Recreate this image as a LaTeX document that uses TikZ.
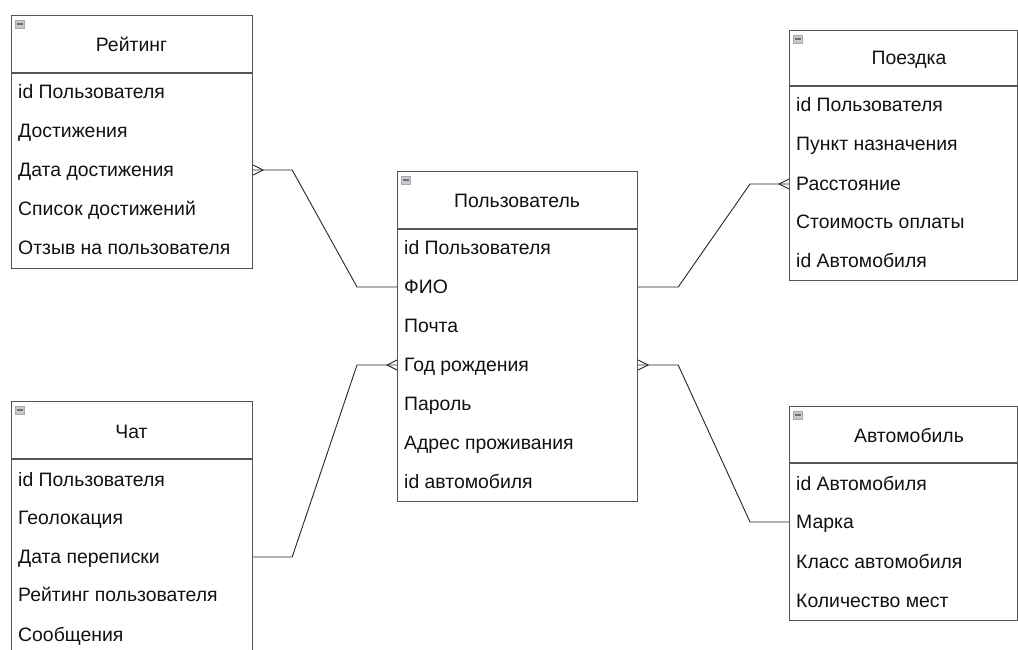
\documentclass[tikz,border=0pt]{standalone}
\usepackage{fontspec}
\setmainfont{Liberation Sans}
\usepackage{tikz}
\usetikzlibrary{positioning, calc}
\definecolor{mLine}{HTML}{555555}
\definecolor{mText}{HTML}{111111}
\definecolor{mIcon}{HTML}{C8C8D0}
\definecolor{mBar}{HTML}{707070}

\begin{document}
\begin{tikzpicture}[
  x=1pt, y=-1pt,
  tbl/.style={draw=mLine, line width=1.2pt, anchor=north west, inner sep=0pt},
  head/.style={font=\fontsize{19.4}{22}\selectfont, text=mText, inner sep=0pt, text height=13.8pt, text depth=0pt},
  row/.style={font=\fontsize{19.4}{22}\selectfont, text=mText, anchor=west, inner sep=0pt, text height=13.8pt, text depth=0pt},
  link/.style={draw=black!85, line width=0.9pt},
  icon/.style={fill=mIcon, draw=mBar!60, line width=0.5pt},
  bar/.style={draw=mBar, line width=1.4pt},
]
  \useasboundingbox (0,0) rectangle (1018,650);
  \clip (0,0) rectangle (1018,650);

  % Рейтинг
  \node[tbl, minimum width=241pt, minimum height=253pt] (rating) at (11,15) {};
  \draw[tbl] ([yshift=-58pt]rating.north west) -- ([yshift=-58pt]rating.north east);
  \filldraw[icon] (15,20) rectangle (24,28);
  \draw[bar] (16.5,24) -- (22.5,24);
  \node[head] (rating-t) at (131.5,45) {Рейтинг};
  \node[row] (rating-1) at (18,92) {id Пользователя};
  \node[row] (rating-2) at (18,131) {Достижения};
  \node[row] (rating-3) at (18,170) {Дата достижения};
  \node[row] (rating-4) at (18,209) {Список достижений};
  \node[row] (rating-5) at (18,248) {Отзыв на пользователя};

  % Чат
  \node[tbl, minimum width=241pt, minimum height=270pt] (chat) at (11,401) {};
  \draw[tbl] ([yshift=-58pt]chat.north west) -- ([yshift=-58pt]chat.north east);
  \filldraw[icon] (15,406) rectangle (24,414);
  \draw[bar] (16.5,410) -- (22.5,410);
  \node[head] (chat-t) at (131.5,432) {Чат};
  \node[row] (chat-1) at (18,480) {id Пользователя};
  \node[row] (chat-2) at (18,518) {Геолокация};
  \node[row] (chat-3) at (18,557) {Дата переписки};
  \node[row] (chat-4) at (18,595) {Рейтинг пользователя};
  \node[row] (chat-5) at (18,635) {Сообщения};

  % Пользователь
  \node[tbl, minimum width=240pt, minimum height=330pt] (user) at (397,171) {};
  \draw[tbl] ([yshift=-58pt]user.north west) -- ([yshift=-58pt]user.north east);
  \filldraw[icon] (401,176) rectangle (410,184);
  \draw[bar] (402.5,180) -- (408.5,180);
  \node[head] (user-t) at (517,201) {Пользователь};
  \node[row] (user-1) at (404,248) {id Пользователя};
  \node[row] (user-2) at (404,287) {ФИО};
  \node[row] (user-3) at (404,326) {Почта};
  \node[row] (user-4) at (404,365) {Год рождения};
  \node[row] (user-5) at (404,404) {Пароль};
  \node[row] (user-6) at (404,443) {Адрес проживания};
  \node[row] (user-7) at (404,482) {id автомобиля};

  % Поездка
  \node[tbl, minimum width=228pt, minimum height=250pt] (trip) at (789,30) {};
  \draw[tbl] ([yshift=-56pt]trip.north west) -- ([yshift=-56pt]trip.north east);
  \filldraw[icon] (793,35) rectangle (802,43);
  \draw[bar] (794.5,39) -- (800.5,39);
  \node[head] (trip-t) at (909,58) {Поездка};
  \node[row] (trip-1) at (796,105) {id Пользователя};
  \node[row] (trip-2) at (796,144) {Пункт назначения};
  \node[row] (trip-3) at (796,184) {Расстояние};
  \node[row] (trip-4) at (796,222) {Стоимость оплаты};
  \node[row] (trip-5) at (796,261) {id Автомобиля};

  % Автомобиль
  \node[tbl, minimum width=228pt, minimum height=214pt] (car) at (789,406) {};
  \draw[tbl] ([yshift=-57pt]car.north west) -- ([yshift=-57pt]car.north east);
  \filldraw[icon] (793,411) rectangle (802,419);
  \draw[bar] (794.5,415) -- (800.5,415);
  \node[head] (car-t) at (909,436) {Автомобиль};
  \node[row] (car-1) at (796,484) {id Автомобиля};
  \node[row] (car-2) at (796,522) {Марка};
  \node[row] (car-3) at (796,562) {Класс автомобиля};
  \node[row] (car-4) at (796,601) {Количество мест};

  % связи
  \draw[link] (rating.east |- rating-3) -- ++(39,0) -- ([xshift=-40pt]user.west |- user-2) -- (user.west |- user-2);
  \draw[link] (rating.east |- rating-3) ++(0,-5) -- ++(10,5) -- ++(-10,5);

  \draw[link] (chat.east |- chat-3) -- ++(39,0) -- ([xshift=-40pt]user.west |- user-4) -- (user.west |- user-4);
  \draw[link] (user.west |- user-4) ++(0,-5) -- ++(-10,5) -- ++(10,5);

  \draw[link] (user.east |- user-2) -- ++(40,0) -- ([xshift=-39pt]trip.west |- trip-3) -- (trip.west |- trip-3);
  \draw[link] (trip.west |- trip-3) ++(0,-5) -- ++(-10,5) -- ++(10,5);

  \draw[link] (user.east |- user-4) -- ++(40,0) -- ([xshift=-39pt]car.west |- car-2) -- (car.west |- car-2);
  \draw[link] (user.east |- user-4) ++(0,-5) -- ++(10,5) -- ++(-10,5);
\end{tikzpicture}
\end{document}
